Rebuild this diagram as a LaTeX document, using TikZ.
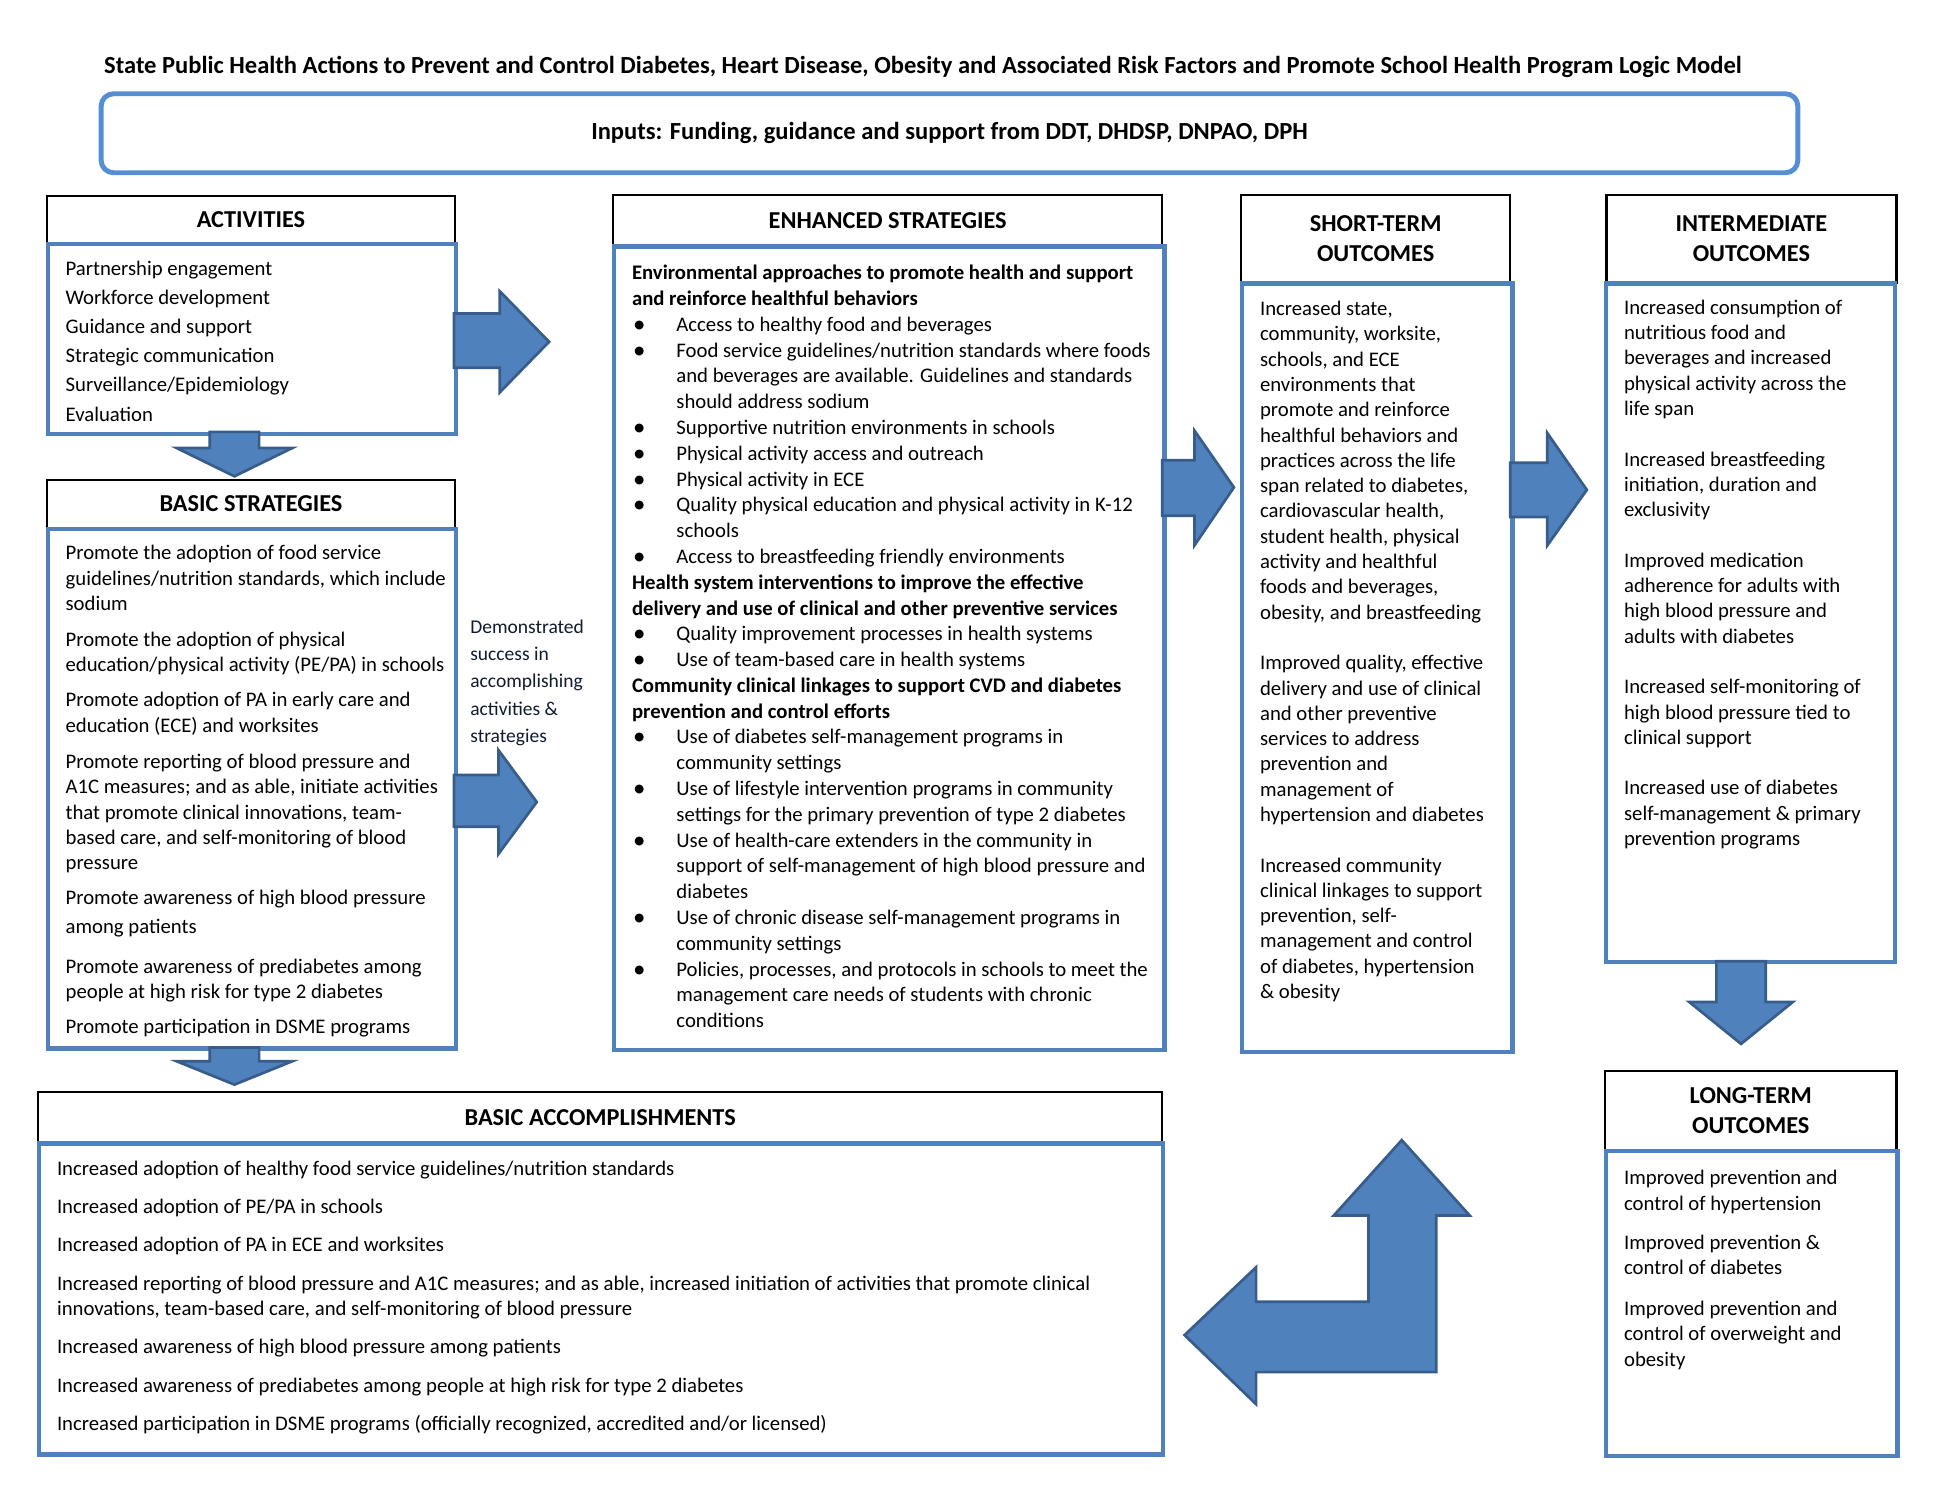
\documentclass[tikz,border=0pt]{standalone}
\usepackage{fontspec}
\usepackage{graphicx}
\setmainfont{Carlito}
\definecolor{boxblue}{HTML}{4F81BD}
\definecolor{inblue}{HTML}{558ED5}
\definecolor{arrfill}{HTML}{4F81BD}
\definecolor{arrline}{HTML}{385D8A}
\definecolor{demotext}{HTML}{0F1B2E}
\newcommand\bodyfont{\fontsize{16.8}{20.5}\selectfont}
\newcommand\hdrfont{\bfseries\fontsize{19.7}{24}\selectfont}
\newcommand\titlefont{\bfseries\fontsize{19.9}{23}\selectfont}
\newcommand\esbul{\makebox[36pt][l]{\hspace{1pt}\raisebox{-0.8pt}{\scalebox{1.2}{\textbullet}}}}
\newcommand\esind{\hspace*{36pt}}
\begin{document}
\begin{tikzpicture}[x=1pt,y=-1pt,
  hdr/.style={draw=black,line width=1.8pt,anchor=north west,inner sep=0pt,align=center,font=\hdrfont},
  bod/.style={draw=boxblue,line width=3.5pt,anchor=north west,inner sep=0pt},
  txt/.style={anchor=north west,inner sep=0pt,align=left,font=\bodyfont},
  arr/.style={fill=arrfill,draw=arrline,line width=2.2pt,line join=miter}]
\useasboundingbox (0,0) rectangle (1569,1209);

% title and inputs
\node[font=\titlefont,inner sep=0pt] (title) at (748,54) {State Public Health Actions to Prevent and Control Diabetes, Heart Disease, Obesity and Associated Risk Factors and Promote School Health Program Logic Model};
\node[draw=inblue,line width=4pt,rounded corners=10pt,minimum width=1375pt,minimum height=64pt,inner sep=0pt,font=\titlefont] (inputs) at (769.5,108) {Inputs: Funding, guidance and support from DDT, DHDSP, DNPAO, DPH};

% headers
\node[hdr,minimum width=331pt,minimum height=38pt] (acth) at (37,158) {ACTIVITIES};
\node[hdr,minimum width=331pt,minimum height=39pt] (bsh) at (37,388) {BASIC STRATEGIES};
\node[hdr,minimum width=445pt,minimum height=41pt] (esh) at (496,157) {ENHANCED STRATEGIES};
\node[hdr,minimum width=218pt,minimum height=71pt] (sth) at (1005,157) {SHORT-TERM\\OUTCOMES};
\node[hdr,minimum width=235pt,minimum height=71pt] (imh) at (1301,157) {INTERMEDIATE\\OUTCOMES};
\node[hdr,minimum width=236pt,minimum height=64pt] (lth) at (1300,867) {LONG-TERM\\OUTCOMES};
\node[hdr,minimum width=911pt,minimum height=41pt] (bah) at (30,884) {BASIC ACCOMPLISHMENTS};

% bodies
\node[bod,minimum width=331pt,minimum height=154pt] (actb) at (37,196) {};
\node[bod,minimum width=331pt,minimum height=421pt] (bsb) at (37,427) {};
\node[bod,minimum width=446pt,minimum height=651pt] (esb) at (496,198) {};
\node[bod,minimum width=219pt,minimum height=623pt] (stb) at (1005,228) {};
\node[bod,minimum width=234pt,minimum height=550pt] (imb) at (1300,228) {};
\node[bod,minimum width=236pt,minimum height=247pt] (ltb) at (1300,931) {};
\node[bod,minimum width=911pt,minimum height=252pt] (bab) at (30,925) {};

% activities text
\node[txt,font=\fontsize{16.8}{23.6}\selectfont] (actt) at (53,206.5) {\strut Partnership engagement\\Workforce development\\Guidance and support\\Strategic communication\\Surveillance/Epidemiology\\Evaluation};

% basic strategies text
\node[txt] (bs1) at (53,439.2) {\strut Promote the adoption of food service\\guidelines/nutrition standards, which include\\sodium};
\node[txt] (bs2) at (53,509.2) {\strut Promote the adoption of physical\\education/physical activity (PE/PA) in schools};
\node[txt] (bs3) at (53,558.2) {\strut Promote adoption of PA in early care and\\education (ECE) and worksites};
\node[txt] (bs4) at (53,608.2) {\strut Promote reporting of blood pressure and\\A1C measures; and as able, initiate activities\\that promote clinical innovations, team-\\based care, and self-monitoring of blood\\pressure};
\node[txt] (bs5) at (53,718.2) {\strut Promote awareness of high blood pressure\\[3.5pt]among patients};
\node[txt] (bs6) at (53,774.2) {\strut Promote awareness of prediabetes among\\people at high risk for type 2 diabetes};
\node[txt] (bs7) at (53,823.2) {\strut Promote participation in DSME programs};

% demonstrated label
\node[txt,font=\fontsize{15.8}{22}\selectfont,text=demotext] (demo) at (381,497.9) {\strut Demonstrated\\success in\\accomplishing\\activities \&\\strategies};

% enhanced strategies text
\node[txt,font=\fontsize{16.8}{20.9}\selectfont] (est) at (512,211.9) {\strut\textbf{Environmental approaches to promote health and support}\\
\textbf{and reinforce healthful behaviors}\\
\esbul Access to healthy food and beverages\\
\esbul Food service guidelines/nutrition standards where foods\\
\esind and beverages are available. Guidelines and standards\\
\esind should address sodium\\
\esbul Supportive nutrition environments in schools\\
\esbul Physical activity access and outreach\\
\esbul Physical activity in ECE\\
\esbul Quality physical education and physical activity in K-12\\
\esind schools\\
\esbul Access to breastfeeding friendly environments\\
\textbf{Health system interventions to improve the effective}\\
\textbf{delivery and use of clinical and other preventive services}\\
\esbul Quality improvement processes in health systems\\
\esbul Use of team-based care in health systems\\
\textbf{Community clinical linkages to support CVD and diabetes}\\
\textbf{prevention and control efforts}\\
\esbul Use of diabetes self-management programs in\\
\esind community settings\\
\esbul Use of lifestyle intervention programs in community\\
\esind settings for the primary prevention of type 2 diabetes\\
\esbul Use of health-care extenders in the community in\\
\esind support of self-management of high blood pressure and\\
\esind diabetes\\
\esbul Use of chronic disease self-management programs in\\
\esind community settings\\
\esbul Policies, processes, and protocols in schools to meet the\\
\esind management care needs of students with chronic\\
\esind conditions};

% short-term text
\node[txt] (stt) at (1021,241.2) {\strut Increased state,\\community, worksite,\\schools, and ECE\\environments that\\promote and reinforce\\healthful behaviors and\\practices across the life\\span related to diabetes,\\cardiovascular health,\\student health, physical\\activity and healthful\\foods and beverages,\\obesity, and breastfeeding\\[20.5pt]
Improved quality, effective\\delivery and use of clinical\\and other preventive\\services to address\\prevention and\\management of\\hypertension and diabetes\\[20.5pt]
Increased community\\clinical linkages to support\\prevention, self-\\management and control\\of diabetes, hypertension\\\& obesity};

% intermediate text
\node[txt] (imt) at (1316,240.2) {\strut Increased consumption of\\nutritious food and\\beverages and increased\\physical activity across the\\life span\\[20.5pt]
Increased breastfeeding\\initiation, duration and\\exclusivity\\[20.5pt]
Improved medication\\adherence for adults with\\high blood pressure and\\adults with diabetes\\[20.5pt]
Increased self-monitoring of\\high blood pressure tied to\\clinical support\\[20.5pt]
Increased use of diabetes\\self-management \& primary\\prevention programs};

% long-term text
\node[txt] (ltt) at (1316,945.7) {\strut Improved prevention and\\control of hypertension\\[11.5pt]
Improved prevention \&\\control of diabetes\\[12.5pt]
Improved prevention and\\control of overweight and\\obesity};

% basic accomplishments text
\node[txt] (bat) at (46,937.7) {\strut Increased adoption of healthy food service guidelines/nutrition standards\\[10.5pt]
Increased adoption of PE/PA in schools\\[10.5pt]
Increased adoption of PA in ECE and worksites\\[11pt]
Increased reporting of blood pressure and A1C measures; and as able, increased initiation of activities that promote clinical\\
innovations, team-based care, and self-monitoring of blood pressure\\[10.5pt]
Increased awareness of high blood pressure among patients\\[10.5pt]
Increased awareness of prediabetes among people at high risk for type 2 diabetes\\[10.5pt]
Increased participation in DSME programs (officially recognized, accredited and/or licensed)};

% block arrows
\draw[arr] (170,350) -- (210,350) -- (210,363) -- (237,363) -- (190,386) -- (143,363) -- (170,363) -- cycle;
\draw[arr] (170,849) -- (210,849) -- (210,860) -- (237,860) -- (190,879) -- (143,860) -- (170,860) -- cycle;
\draw[arr] (368,254) -- (405,254) -- (405,236) -- (445,277) -- (405,318) -- (405,298) -- (368,298) -- cycle;
\draw[arr] (368,628) -- (404,628) -- (404,608) -- (435,650) -- (404,692) -- (404,670) -- (368,670) -- cycle;
\draw[arr] (942,373) -- (968,373) -- (968,349) -- (1000,395) -- (968,442) -- (968,418) -- (942,418) -- cycle;
\draw[arr] (1224,375) -- (1254,375) -- (1254,351) -- (1286,397) -- (1254,442) -- (1254,419) -- (1224,419) -- cycle;
\draw[arr] (1391,779) -- (1431,779) -- (1431,812) -- (1453,812) -- (1411,846) -- (1369,812) -- (1391,812) -- cycle;
\draw[arr] (1136,924) -- (1191,985) -- (1164,985) -- (1164,1112) -- (1018,1112) -- (1018,1138) -- (960,1082) -- (1018,1027) -- (1018,1055) -- (1109,1055) -- (1109,985) -- (1081,985) -- cycle;
\end{tikzpicture}
\end{document}
